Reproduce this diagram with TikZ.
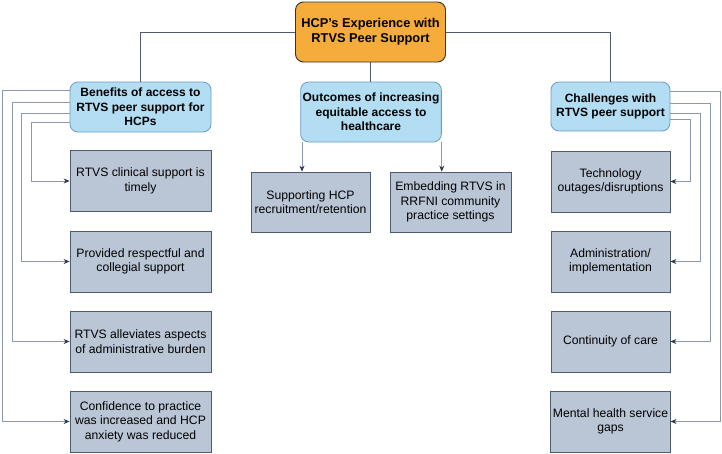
\documentclass[tikz,border=0pt]{standalone}
\usepackage{fontspec}
\setmainfont{Liberation Sans}
\usetikzlibrary{arrows.meta}
\definecolor{orangefill}{HTML}{F5AC3A}
\definecolor{bluefill}{HTML}{B2DDF2}
\definecolor{blueline}{HTML}{6A9CC4}
\definecolor{grayfill}{HTML}{BAC6D5}
\definecolor{grayline}{HTML}{4E5C6E}
\definecolor{conn}{HTML}{4F5B6B}
\definecolor{lconn}{HTML}{8C99AB}
\definecolor{tipc}{HTML}{2B3848}
\begin{document}
\begin{tikzpicture}[x=1pt,y=-1pt,
  font=\fontsize{12.2}{14.6}\selectfont,
  topbox/.style={draw=black!80, line width=0.9pt, fill=orangefill, rounded corners=8pt, align=center, font=\fontsize{12.8}{15}\selectfont\bfseries, minimum width=150pt, minimum height=60pt, inner sep=2pt},
  catbox/.style={draw=blueline, line width=0.8pt, fill=bluefill, rounded corners=8pt, align=center, font=\fontsize{12}{14.5}\selectfont\bfseries, inner sep=2pt},
  itembox/.style={draw=grayline, line width=0.8pt, fill=grayfill, align=center, minimum width=141pt, minimum height=61pt, inner sep=2pt},
  link/.style={draw=conn, line width=0.8pt},
  arr/.style={draw=lconn, line width=0.8pt, -{Stealth[length=6pt,width=5pt,color=tipc]}}
]
\useasboundingbox (0,0) rectangle (722,453);
\node[topbox] (top) at (370.5,32) {HCP's Experience with\\RTVS Peer Support};
\node[catbox, minimum width=141pt, minimum height=50pt] (ben) at (140.5,107) {Benefits of access to\\RTVS peer support for\\HCPs};
\node[catbox, minimum width=140pt, minimum height=60pt] (out) at (371,112) {Outcomes of increasing\\equitable access to\\healthcare};
\node[catbox, minimum width=119pt, minimum height=49pt] (cha) at (610.5,106.5) {Challenges with\\RTVS peer support};

\node[itembox] (b1) at (140.5,181) {RTVS clinical support is\\timely};
\node[itembox] (b2) at (140.5,261.5) {Provided respectful and\\collegial support};
\node[itembox] (b3) at (140.5,341.5) {RTVS alleviates aspects\\of administrative burden};
\node[itembox] (b4) at (140.5,421.5) {Confidence to practice\\was increased and HCP\\anxiety was reduced};

\node[itembox, minimum width=119pt, minimum height=60pt] (o1) at (310.5,202) {Supporting HCP\\recruitment/retention};
\node[itembox, minimum width=121pt, minimum height=60pt] (o2) at (450.5,202) {Embedding RTVS in\\RRFNI community\\practice settings};

\node[itembox, minimum width=119pt] (c1) at (610.5,181.5) {Technology\\outages/disruptions};
\node[itembox, minimum width=119pt] (c2) at (610.5,261.5) {Administration/\\implementation};
\node[itembox, minimum width=119pt] (c3) at (610.5,341.5) {Continuity of care};
\node[itembox, minimum width=119pt] (c4) at (610.5,421.5) {Mental health service\\gaps};

% top connectors
\draw[link] (top.west) -| (ben.north);
\draw[link] (top.south) -- (top.south |- out.north);
\draw[link] (top.east) -| (cha.north);

% benefits
\draw[arr] (ben.west |- 0,122) -- (31,122) |- (b1.west);
\draw[arr] (ben.west |- 0,113) -- (21,113) |- (b2.west);
\draw[arr] (ben.west |- 0,102) -- (12,102) |- (b3.west);
\draw[arr] (ben.west |- 0,90) -- (2,90) |- (b4.west);

% outcomes
\draw[arr] (out.south west -| 0,0) ++(302,0) -- (o1.north -| 302,0);
\draw[arr] (out.south east) -- (o2.north -| out.south east);

% challenges
\draw[arr] (cha.east |- 0,119) -- (690,119) |- (c1.east);
\draw[arr] (cha.east |- 0,113) -- (700,113) |- (c2.east);
\draw[arr] (cha.east |- 0,103) -- (710,103) |- (c3.east);
\draw[arr] (cha.east |- 0,91) -- (720,91) |- (c4.east);
\end{tikzpicture}
\end{document}
